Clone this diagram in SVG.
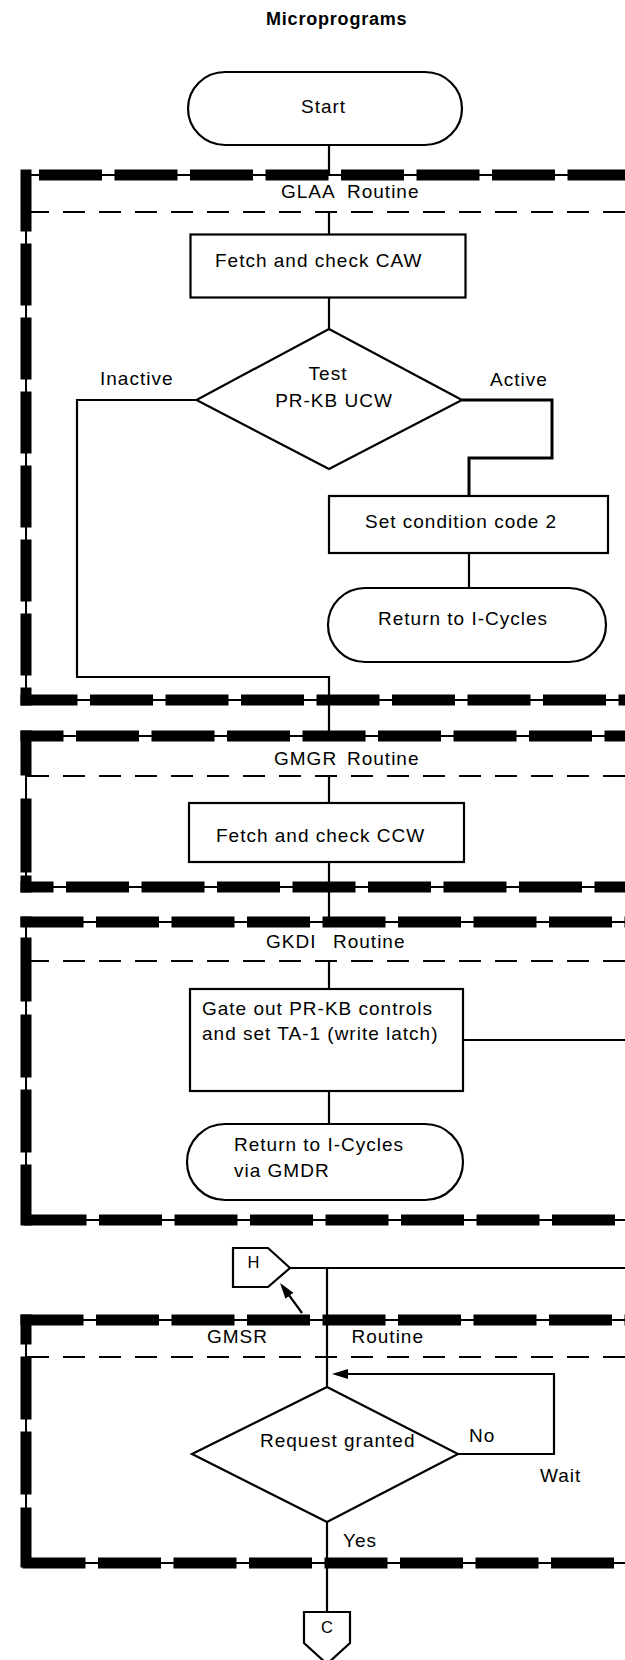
<svg xmlns="http://www.w3.org/2000/svg" width="625" height="1660" viewBox="0 0 625 1660">
  <defs>
    <style>
      .t{font-family:"Liberation Sans",Arial,Helvetica,sans-serif;font-size:19px;letter-spacing:1px;fill:#000}
      .title{font-weight:bold;font-size:18px;letter-spacing:0.8px}
      .c{text-anchor:middle}
      .cn{font-size:16.5px;letter-spacing:0}
      .box{fill:#fff;stroke:#000;stroke-width:2.2}
      .ln{fill:none;stroke:#000;stroke-width:2.2}
      .heavy{stroke-width:3}
      .rail{fill:none;stroke:#000;stroke-width:2}
      .dash{fill:none;stroke:#000;stroke-width:11;stroke-dasharray:63 12.5}
      .sep{fill:none;stroke:#000;stroke-width:2;stroke-dasharray:22 14}
    </style>
    <marker id="arrow" viewBox="0 0 16 10" refX="12" refY="5" markerWidth="16" markerHeight="10" markerUnits="userSpaceOnUse" orient="auto">
      <path d="M0,0 L16,5 L0,10 z" fill="#000"/>
    </marker>
  </defs>

  <rect width="625" height="1660" fill="#fff"/>

  <text class="t title" x="266" y="25">Microprograms</text>

  <!-- routine frames: thin rail with heavy dashes, plus header separator -->
  <g id="frame-glaa">
    <path class="rail" d="M625,175 H26 V700 H625"/>
    <path class="dash" d="M39,175 H625"/>
    <path class="dash" d="M26,169.5 V705.5" style="stroke-dasharray:62 12"/>
    <path class="dash" d="M20.5,700 H625" style="stroke-dashoffset:6"/>
    <path class="sep" d="M27,212 H625"/>
    <text class="t"><tspan x="281" y="198">GLAA</tspan><tspan x="347" y="198">Routine</tspan></text>
  </g>
  <g id="frame-gmgr">
    <path class="rail" d="M625,736 H26 V887 H625"/>
    <path class="dash" d="M20.5,736 H625" style="stroke-dashoffset:20"/>
    <path class="dash" d="M26,730.5 V892.5" style="stroke-dasharray:45 23 74 3 20"/>
    <path class="dash" d="M20.5,887 H625" style="stroke-dashoffset:30"/>
    <path class="sep" d="M27,776 H625"/>
    <text class="t"><tspan x="274" y="765">GMGR</tspan><tspan x="347" y="765">Routine</tspan></text>
  </g>
  <g id="frame-gkdi">
    <path class="rail" d="M625,922 H26 V1220 H625"/>
    <path class="dash" d="M20.5,922 H625"/>
    <path class="dash" d="M26,916.5 V1225.5" style="stroke-dasharray:10 11 64 13 63 12 63 12 70"/>
    <path class="dash" d="M20.5,1220 H625" style="stroke-dashoffset:-3"/>
    <path class="sep" d="M27,961 H625"/>
    <text class="t"><tspan x="266" y="948">GKDI</tspan><tspan x="333" y="948">Routine</tspan></text>
  </g>
  <g id="frame-gmsr">
    <path class="rail" d="M625,1320 H26 V1563 H625"/>
    <path class="dash" d="M20.5,1320 H625"/>
    <path class="dash" d="M26,1314.5 V1568.5" style="stroke-dasharray:30 12 63 12 63 13 60"/>
    <path class="dash" d="M20.5,1563 H625" style="stroke-dashoffset:-2"/>
    <path class="sep" d="M27,1357 H625"/>
    <text class="t"><tspan x="207" y="1343">GMSR</tspan><tspan x="351.5" y="1343">Routine</tspan></text>
  </g>

  <!-- flow lines -->
  <g id="connectors">
    <path class="ln" d="M329,145 V175"/>
    <path class="ln" d="M329,212 V234.5"/>
    <path class="ln" d="M329,297.5 V329"/>
    <path class="ln" d="M196.5,400 H77 V677 H329 V736"/>
    <path class="ln heavy" d="M462,400 H552 V458 H469 V496"/>
    <path class="ln" d="M469,553 V588"/>
    <path class="ln" d="M329,776 V803"/>
    <path class="ln" d="M329,862 V922"/>
    <path class="ln" d="M329,961 V989"/>
    <path class="ln" d="M329,1091 V1124"/>
    <path class="ln" d="M463,1040 H625"/>
    <path class="ln" d="M290,1268 H625"/>
    <path class="ln" d="M327,1268 V1387"/>
    <path class="ln" d="M302,1313 L282.4,1286.2" marker-end="url(#arrow)"/>
    <path class="ln" d="M458,1454 H554 V1374 H336" marker-end="url(#arrow)"/>
    <path class="ln" d="M327,1522 V1612"/>
    <text class="t" x="100" y="385">Inactive</text>
    <text class="t" x="490" y="386">Active</text>
    <text class="t" x="469" y="1442">No</text>
    <text class="t" x="540" y="1482">Wait</text>
    <text class="t" x="343" y="1547">Yes</text>
  </g>

  <g id="start">
    <rect class="box" x="188" y="72" width="274" height="73" rx="37" ry="36.5"/>
    <text class="t" x="301" y="113">Start</text>
  </g>
  <g id="fetch-caw">
    <rect class="box" x="190.5" y="234.5" width="275" height="63"/>
    <text class="t" x="215" y="267">Fetch and check CAW</text>
  </g>
  <g id="test-ucw">
    <polygon class="box" points="329,329 462,400 329,469 196.5,400"/>
    <text class="t c" x="328" y="380">Test</text>
    <text class="t c" x="334" y="407">PR-KB UCW</text>
  </g>
  <g id="set-cc2">
    <rect class="box" x="329" y="496" width="279" height="57"/>
    <text class="t" x="365" y="528">Set condition code 2</text>
  </g>
  <g id="return-1">
    <rect class="box" x="328" y="588" width="278" height="74" rx="37" ry="37"/>
    <text class="t" x="378" y="625">Return to I-Cycles</text>
  </g>
  <g id="fetch-ccw">
    <rect class="box" x="189" y="803" width="275" height="59"/>
    <text class="t" x="216" y="842">Fetch and check CCW</text>
  </g>
  <g id="gate-out">
    <rect class="box" x="190" y="989" width="273" height="102"/>
    <text class="t" x="202" y="1015">Gate out PR-KB controls</text>
    <text class="t" x="202" y="1040">and set TA-1 (write latch)</text>
  </g>
  <g id="return-2">
    <rect class="box" x="187" y="1124" width="276" height="76" rx="38" ry="38"/>
    <text class="t" x="234" y="1151">Return to I-Cycles</text>
    <text class="t" x="234" y="1177">via GMDR</text>
  </g>
  <g id="connector-h">
    <polygon class="box" points="233,1248 268,1248 290,1268 268,1287 233,1287"/>
    <text class="t c cn" x="253.5" y="1268">H</text>
  </g>
  <g id="request-granted">
    <polygon class="box" points="327,1387 458,1454 327,1522 192,1454"/>
    <text class="t" x="260" y="1447">Request granted</text>
  </g>
  <g id="connector-c">
    <polygon class="box" points="304,1612 350,1612 350,1643 327,1664 304,1643"/>
    <text class="t c cn" x="327" y="1633">C</text>
  </g>
</svg>
